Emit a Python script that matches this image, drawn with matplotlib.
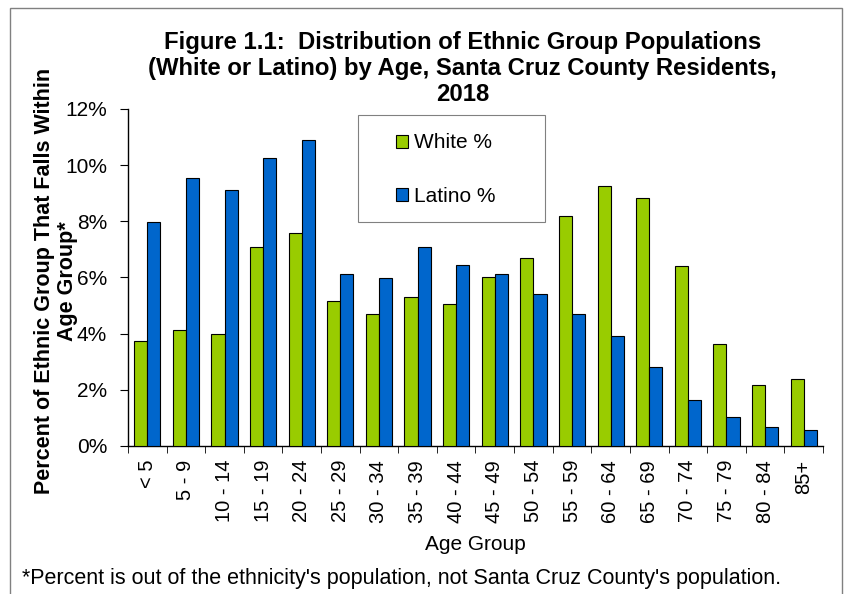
import matplotlib
matplotlib.use("Agg")
import matplotlib.pyplot as plt
import numpy as np
from matplotlib.patches import Rectangle

plt.rcParams['font.family'] = ['Liberation Sans', 'DejaVu Sans']

age_groups = ["< 5", "5 - 9", "10 - 14", "15 - 19", "20 - 24", "25 - 29", "30 - 34",
              "35 - 39", "40 - 44", "45 - 49", "50 - 54", "55 - 59", "60 - 64",
              "65 - 69", "70 - 74", "75 - 79", "80 - 84", "85+"]
white_pct = [3.75, 4.14, 3.99, 7.08, 7.57, 5.17, 4.69, 5.31, 5.06, 6.00,
             6.69, 8.19, 9.26, 8.83, 6.40, 3.63, 2.17, 2.38]
latino_pct = [7.98, 9.56, 9.11, 10.25, 10.89, 6.14, 5.99, 7.08, 6.46, 6.13,
              5.40, 4.69, 3.93, 2.80, 1.63, 1.04, 0.68, 0.57]
y_ticks = [0, 2, 4, 6, 8, 10, 12]

green = "#99CC00"
blue = "#0066CC"

W, H = 846, 594
fig = plt.figure(figsize=(W / 100, H / 100), dpi=100)
ax = fig.add_axes([0.1513, 0.2492, 0.8215, 0.5673])

x = np.arange(len(age_groups))
w = 0.34
ax.bar(x - w / 2, white_pct, w, color=green, edgecolor="black", linewidth=0.8,
       label="White %", zorder=3)
ax.bar(x + w / 2, latino_pct, w, color=blue, edgecolor="black", linewidth=0.8,
       label="Latino %", zorder=3)

ax.set_xlim(-0.5, len(age_groups) - 0.5)
ax.set_ylim(0, 12)
ax.set_yticks(y_ticks)
ax.set_yticklabels([f"{t}%" for t in y_ticks], fontsize=15)
ax.set_xticks(x)
ax.set_xticklabels(age_groups, rotation=90, fontsize=14.5)
ax.set_xticks(np.arange(len(age_groups) + 1) - 0.5, minor=True)
ax.tick_params(axis="x", which="major", length=0, pad=10)
ax.tick_params(axis="x", which="minor", length=5, direction="out")
ax.tick_params(axis="y", length=6, direction="out", pad=9)

for side in ("top", "right"):
    ax.spines[side].set_visible(False)
for side in ("left", "bottom"):
    ax.spines[side].set_linewidth(1.0)

ax.set_xlabel("Age Group", fontsize=15, labelpad=9)

# two-line y-axis title, each line placed on its own
ylab_y = 1 - 281 / H
fig.text(45 / W, ylab_y, "Percent of Ethnic Group That Falls Within",
         rotation=90, ha="center", va="center", fontsize=15.5, fontweight="bold")
fig.text(67 / W, ylab_y, "Age Group*",
         rotation=90, ha="center", va="center", fontsize=15.5, fontweight="bold")

leg = ax.legend(loc="center left", bbox_to_anchor=(0.385, 0.82), fontsize=15,
                frameon=False, borderpad=0, labelspacing=1.65,
                handlelength=0.6, handleheight=0.6, handletextpad=0.3,
                borderaxespad=0)
# legend frame
ax.add_patch(Rectangle((0.331, 0.665), 0.269, 0.317, transform=ax.transAxes,
                       fill=False, edgecolor="#808080", linewidth=0.8, zorder=4))

fig.text(0.547, 0.948,
         "Figure 1.1:  Distribution of Ethnic Group Populations\n"
         "(White or Latino) by Age, Santa Cruz County Residents,\n2018",
         ha="center", va="top", fontsize=17.2, fontweight="bold", linespacing=1.17)

fig.text(0.026, 0.009,
         "*Percent is out of the ethnicity's population, not Santa Cruz County's population.",
         ha="left", va="bottom", fontsize=15.5)

# outer frame around the figure
fig.patches.append(Rectangle((10 / W, -0.01), 832 / W, 1 - 8 / H + 0.01,
                             transform=fig.transFigure, fill=False,
                             edgecolor="#808080", linewidth=1.0))

fig.savefig("out.png", dpi=100)
